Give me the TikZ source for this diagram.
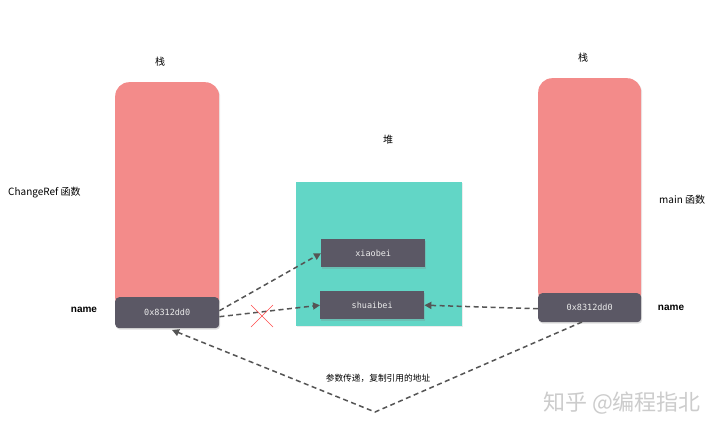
\documentclass[tikz,border=0pt]{standalone}
\usepackage{fontspec}
\setmainfont{Liberation Sans}
\newfontfamily\cjk{Noto Sans CJK SC}
\newfontfamily\monof{DejaVu Sans Mono}
\usetikzlibrary{arrows.meta,shadows}
\definecolor{stackpink}{HTML}{F38B8A}
\definecolor{boxdark}{HTML}{5B5865}
\definecolor{heapteal}{HTML}{62D6C6}
\definecolor{arrowgrey}{HTML}{555555}
\begin{document}
\begin{tikzpicture}[x=1pt,y=-1pt,
  stackcol/.style={fill=stackpink,draw=none,rounded corners=14pt,drop shadow={shadow xshift=1pt,shadow yshift=-1pt,opacity=0.15}},
  valbox/.style={fill=boxdark,draw=none,rounded corners=4pt,text=white!85!gray,font=\monof\fontsize{8.5}{10}\selectfont,inner sep=0pt,drop shadow={shadow xshift=1pt,shadow yshift=-1.5pt,opacity=0.25}},
  heapbox/.style={fill=boxdark,draw=none,text=white!85!gray,font=\monof\fontsize{8.5}{10}\selectfont,inner sep=0pt,drop shadow={shadow xshift=1pt,shadow yshift=-1.5pt,opacity=0.25}},
  lbl/.style={font=\cjk\fontsize{10}{12}\selectfont,text=black,inner sep=0pt},
  namelbl/.style={font=\bfseries\fontsize{10}{12}\selectfont,text=black,inner sep=0pt},
  ptr/.style={draw=arrowgrey,dash pattern=on 5pt off 3.5pt,line width=1.5pt,-{Triangle[length=7pt,width=7pt]}}
]
\useasboundingbox (0,0) rectangle (720,434);
\fill[white] (0,0) rectangle (720,434);

% stacks
\node[stackcol,minimum width=104pt,minimum height=230pt,anchor=north west] (lstack) at (115,82) {};
\node[stackcol,minimum width=103pt,minimum height=228pt,anchor=north west] (rstack) at (538,78) {};

% heap
\node[fill=heapteal,draw=none,minimum width=166pt,minimum height=144pt,anchor=north west,drop shadow={shadow xshift=1pt,shadow yshift=-1pt,opacity=0.15}] (heap) at (296,182) {};

% value boxes
\node[valbox,minimum width=104pt,minimum height=31pt,anchor=north west] (lname) at (115,297) {0x8312dd0};
\node[valbox,minimum width=103pt,minimum height=29pt,anchor=north west] (rname) at (538,293) {0x8312dd0};
\node[heapbox,minimum width=104pt,minimum height=28pt,anchor=north west] (xiao) at (321,239) {xiaobei};
\node[heapbox,minimum width=104pt,minimum height=28pt,anchor=north west] (shuai) at (320,291) {shuaibei};

% labels
\node[lbl] (lzhan) at (160,62) {栈};
\node[lbl] (rzhan) at (583,58) {栈};
\node[lbl] (dui) at (388,140) {堆};
\node[lbl,anchor=west] (cref) at (8,193) {ChangeRef 函数};
\node[lbl,anchor=west] (mainf) at (659,200) {main 函数};
\node[namelbl] (lnamel) at (84,310) {name};
\node[namelbl] (rnamel) at (671,308) {name};
\node[lbl,font=\cjk\fontsize{8.7}{10}\selectfont] (note) at (378,378) {参数传递，复制引用的地址};
\node[font=\cjk\fontsize{22}{26}\selectfont,text=black!20,inner sep=0pt] (wm) at (622,403) {知乎 @编程指北};

% connectors
\coordinate (l1) at ([yshift=2pt]lname.east);
\coordinate (l2) at ([yshift=-4pt]lname.east);
\draw[ptr] (l1) -- (xiao.west);
\draw[ptr] (l2) -- (shuai.west);
\coordinate (xc) at (262,316);
\draw[red!70,line width=0.6pt] ([shift={(-11,-11)}]xc) -- ([shift={(11,11)}]xc);
\draw[red!70,line width=0.6pt] ([shift={(-11,11)}]xc) -- ([shift={(11,-11)}]xc);
\draw[ptr] ([yshift=-1pt]rname.west) -- (shuai.east);
\coordinate (bot) at (375,412);
\coordinate (rb) at (582,322);
\coordinate (lb) at (172,330);
\draw[ptr] (rb) -- (bot) -- (lb);
\end{tikzpicture}
\end{document}
